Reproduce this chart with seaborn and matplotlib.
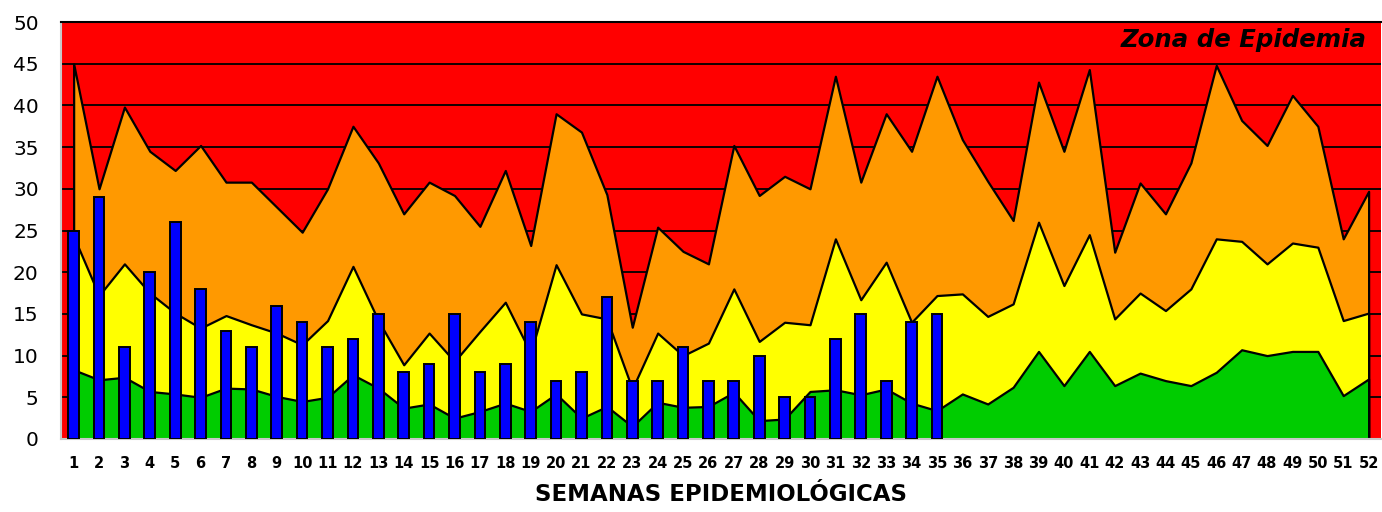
import numpy as np
import pandas as pd
import matplotlib
matplotlib.use("Agg")
import matplotlib.pyplot as plt
import seaborn as sns

# ---- data ----
semanas = list(range(1, 53))

# upper edge of the alarm (orange) zone
alarma = [45.0, 30.0, 39.8, 34.5, 32.2, 35.2, 30.8, 30.8, 27.8, 24.8,
          30.0, 37.5, 33.1, 27.0, 30.8, 29.2, 25.5, 32.2, 23.2, 39.0,
          36.8, 29.3, 13.4, 25.4, 22.5, 21.0, 35.2, 29.2, 31.5, 30.0,
          43.5, 30.8, 39.0, 34.5, 43.5, 35.9, 30.9, 26.2, 42.8, 34.5,
          44.3, 22.4, 30.7, 27.0, 33.1, 44.8, 38.2, 35.2, 41.2, 37.5,
          24.0, 29.7]

# upper edge of the security (yellow) zone
seguridad = [24.3, 17.2, 21.0, 17.5, 15.1, 13.3, 14.8, 13.7, 12.7, 11.3,
             14.2, 20.7, 14.2, 8.9, 12.7, 9.3, 12.9, 16.4, 10.3, 20.9,
             15.0, 14.4, 6.0, 12.7, 10.0, 11.5, 18.0, 11.7, 14.0, 13.7,
             24.0, 16.7, 21.2, 14.0, 17.2, 17.4, 14.7, 16.2, 26.0, 18.4,
             24.5, 14.4, 17.5, 15.4, 18.0, 24.0, 23.7, 21.0, 23.5, 23.0,
             14.2, 15.1]

# upper edge of the success (green) zone
exito = [8.3, 7.1, 7.4, 5.7, 5.4, 5.0, 6.1, 6.0, 5.1, 4.5,
         5.0, 7.7, 6.1, 3.7, 4.2, 2.5, 3.3, 4.3, 3.3, 5.4,
         2.5, 3.9, 1.5, 4.4, 3.8, 3.9, 5.6, 2.2, 2.4, 5.7,
         5.9, 5.3, 6.0, 4.3, 3.4, 5.4, 4.2, 6.2, 10.5, 6.4,
         10.5, 6.4, 7.9, 7.0, 6.4, 8.0, 10.7, 10.0, 10.5, 10.5,
         5.2, 7.2]

# reported cases (weeks 1-35)
semanas_casos = list(range(1, 36))
casos = [25, 29, 11, 20, 26, 18, 13, 11, 16, 14,
         11, 12, 15, 8, 9, 15, 8, 9, 14, 7,
         8, 17, 7, 7, 11, 7, 7, 10, 5, 5,
         12, 15, 7, 14, 15]

ROJO = "#FF0000"
NARANJA = "#FF9900"
AMARILLO = "#FFFF00"
VERDE = "#00CC00"
AZUL = "#0000FF"

sns.set_theme(style="white")
plt.rcParams["font.family"] = ["DejaVu Sans"]
plt.rcParams["text.color"] = "black"
plt.rcParams["axes.labelcolor"] = "black"
plt.rcParams["xtick.color"] = "black"
plt.rcParams["ytick.color"] = "black"

fig, ax = plt.subplots(figsize=(13.82, 5.12), dpi=100)
fig.subplots_adjust(left=0.0441, right=0.9995, top=0.957, bottom=0.1426)

ax.set_facecolor(ROJO)

# horizontal gridlines behind the zones
for yv in range(5, 50, 5):
    ax.axhline(yv, color="black", linewidth=1.3, zorder=0.5)

x = np.array(semanas)
for serie, color in [(alarma, NARANJA), (seguridad, AMARILLO), (exito, VERDE)]:
    ax.fill_between(x, 0, serie, facecolor=color, edgecolor="black",
                    linewidth=1.6, zorder=1)

df_casos = pd.DataFrame({"semana": semanas_casos, "casos": casos})
sns.barplot(data=df_casos, x="semana", y="casos", native_scale=True,
            width=0.42, color=AZUL, saturation=1, edgecolor="black",
            linewidth=1.4, ax=ax, zorder=3)

ax.text(51.93, 47.8, "Zona de Epidemia", ha="right", va="center",
        fontsize=17.6, fontweight="bold", fontstyle="italic", color="black",
        zorder=4)

ax.set_xlim(0.5, 52.5)
ax.set_ylim(0, 50)
ax.set_yticks(range(0, 51, 5))
ax.set_xticks(semanas)
ax.set_xticklabels([str(s) for s in semanas], fontsize=10.5, fontweight="bold")
ax.tick_params(axis="y", labelsize=14.5, length=0, pad=16)
ax.tick_params(axis="x", length=0, pad=12)
ax.set_xlabel("SEMANAS EPIDEMIOLÓGICAS", fontsize=16.5, fontweight="bold",
              labelpad=9)
ax.set_ylabel("")
ax.grid(False)

for side in ["left", "bottom"]:
    ax.spines[side].set_color("#c8c8c8")
    ax.spines[side].set_linewidth(1.5)
ax.spines["top"].set_color("black")
ax.spines["top"].set_linewidth(1.5)
ax.spines["right"].set_visible(False)

plt.savefig("out.png", dpi=100)
plt.close()
